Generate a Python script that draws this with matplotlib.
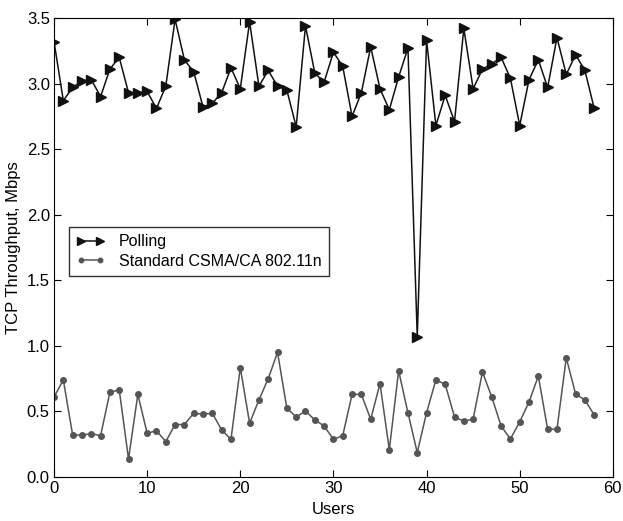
import matplotlib
matplotlib.use("Agg")
import matplotlib.pyplot as plt

users = list(range(59))
polling = [3.32, 2.87, 2.97, 3.02, 3.03, 2.90, 3.11, 3.20, 2.93, 2.93,
           2.94, 2.81, 2.98, 3.49, 3.18, 3.09, 2.82, 2.85, 2.93, 3.12,
           2.96, 3.47, 2.98, 3.10, 2.98, 2.95, 2.67, 3.44, 3.08, 3.01,
           3.24, 3.13, 2.75, 2.93, 3.28, 2.96, 2.80, 3.05, 3.27, 1.07,
           3.33, 2.68, 2.91, 2.71, 3.42, 2.96, 3.11, 3.15, 3.20, 3.04,
           2.68, 3.03, 3.18, 2.97, 3.35, 3.07, 3.22, 3.10, 2.81]
csma = [0.61, 0.74, 0.32, 0.32, 0.33, 0.315, 0.645, 0.665, 0.137, 0.63,
        0.333, 0.353, 0.27, 0.40, 0.40, 0.486, 0.478, 0.486, 0.358, 0.287,
        0.834, 0.41, 0.587, 0.75, 0.95, 0.524, 0.458, 0.503, 0.435, 0.389,
        0.287, 0.315, 0.63, 0.63, 0.44, 0.712, 0.208, 0.81, 0.49, 0.186,
        0.49, 0.74, 0.707, 0.458, 0.425, 0.442, 0.80, 0.61, 0.389, 0.29,
        0.42, 0.572, 0.77, 0.364, 0.364, 0.908, 0.633, 0.587, 0.473]

labels = ["Polling", "Standard CSMA/CA 802.11n"]

plt.rcParams['font.family'] = ['Liberation Sans', 'DejaVu Sans']
plt.rcParams['font.size'] = 12

fig = plt.figure(figsize=(6.23, 5.21), dpi=100)
ax = fig.add_axes([0.0867, 0.0845, 0.897, 0.881])

ax.plot(users, polling, color='#111111', marker='>', markersize=7, linewidth=1.1,
        label=labels[0])
ax.plot(users, csma, color='#555555', marker='o', markersize=4, linewidth=1.1,
        label=labels[1])

ax.set_xlim(0, 60)
ax.set_ylim(0, 3.5)
ax.set_xticks(range(0, 61, 10))
ax.set_yticks([0.0, 0.5, 1.0, 1.5, 2.0, 2.5, 3.0, 3.5])
ax.set_yticklabels(["0.0", "0.5", "1.0", "1.5", "2.0", "2.5", "3.0", "3.5"])
ax.tick_params(direction='in', top=True, right=True, length=5, labelsize=12, pad=3)
ax.set_xlabel("Users", fontsize=12, labelpad=4)
ax.set_ylabel("TCP Throughput, Mbps", fontsize=12, labelpad=4)

leg = ax.legend(loc='upper left', bbox_to_anchor=(0.012, 0.562), numpoints=2,
                fancybox=False, edgecolor='black', fontsize=11.5,
                handlelength=1.8, handletextpad=0.9, borderpad=0.45,
                labelspacing=0.3, markerscale=0.8)
leg.get_frame().set_linewidth(1.0)

fig.savefig("out.png", dpi=100)
